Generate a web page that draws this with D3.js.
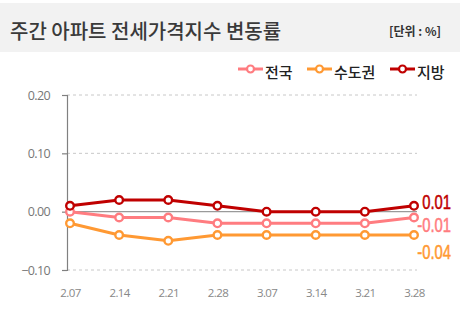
<!DOCTYPE html>
<html>
<head>
<meta charset="utf-8">
<script src="https://cdn.jsdelivr.net/npm/d3@7"></script>
<style>
  html, body { margin: 0; padding: 0; background: #fff; }
  svg { display: block; }
</style>
</head>
<body>
<svg id="chart" width="460" height="325"></svg>
<script>
// Weekly apartment jeonse price index change (%)
const weeks = ["2.07", "2.14", "2.21", "2.28", "3.07", "3.14", "3.21", "3.28"];
const nationwide = [0.00, -0.01, -0.01, -0.02, -0.02, -0.02, -0.02, -0.01];
const capitalArea = [-0.02, -0.04, -0.05, -0.04, -0.04, -0.04, -0.04, -0.04];
const provinces = [0.01, 0.02, 0.02, 0.01, 0.00, 0.00, 0.00, 0.01];
const yTicks = [0.20, 0.10, 0.00, -0.10];
const seriesNames = ["전국", "수도권", "지방"];
const seriesColors = ["#ff7c80", "#ff9933", "#c00000"];

const series = [
  { name: seriesNames[0], values: nationwide, color: seriesColors[0] },
  { name: seriesNames[1], values: capitalArea, color: seriesColors[1] },
  { name: seriesNames[2], values: provinces, color: seriesColors[2] }
];

const svg = d3.select("#chart");
const font = "'Noto Sans CJK KR', 'Noto Sans', sans-serif";

// Title band
svg.append("rect").attr("x", 0).attr("y", 3).attr("width", 460).attr("height", 49).attr("fill", "#f2f2f2");
svg.append("text").attr("x", 10).attr("y", 30).attr("dominant-baseline", "central")
  .attr("font-family", font).attr("font-size", 20).attr("font-weight", 500).attr("fill", "#3a3a3a")
  .text("주간 아파트 전세가격지수 변동률");
svg.append("text").attr("x", 441).attr("y", 30).attr("dominant-baseline", "central").attr("text-anchor", "end")
  .attr("font-family", font).attr("font-size", 12).attr("font-weight", 700).attr("fill", "#333")
  .text("[단위 : %]");

// Scales
const x = d3.scalePoint().domain(weeks).range([70, 414]);
const y = d3.scaleLinear().domain([-0.10, 0.20]).range([270, 95]);

// Grid lines
svg.append("g").selectAll("line").data(yTicks.filter(d => d !== 0)).join("line")
  .attr("x1", 67).attr("x2", 417).attr("y1", d => y(d)).attr("y2", d => y(d))
  .attr("stroke", "#c8c8c8").attr("stroke-width", 1).attr("stroke-dasharray", "3,3");

// Y axis
const yAxis = svg.append("g").attr("transform", "translate(67,0)")
  .call(d3.axisLeft(y).tickValues(yTicks).tickFormat(d3.format(".2f")).tickSize(5).tickPadding(12));
yAxis.select(".domain").attr("stroke", "#808080").attr("stroke-width", 1.2);
yAxis.selectAll(".tick line").attr("stroke", "#808080").attr("stroke-width", 1.2);
yAxis.selectAll(".tick text").attr("font-family", "'Open Sans', sans-serif").attr("font-size", 12.5)
  .attr("fill", "#777").attr("letter-spacing", "-0.6px");

// Zero line
svg.append("line").attr("x1", 67).attr("x2", 417).attr("y1", y(0)).attr("y2", y(0))
  .attr("stroke", "#9a9a9a").attr("stroke-width", 1.2);

// X axis labels
const xAxis = svg.append("g").attr("transform", "translate(0,285)")
  .call(d3.axisBottom(x).tickSize(0).tickPadding(4));
xAxis.select(".domain").remove();
xAxis.selectAll(".tick text").attr("font-family", "'Open Sans', sans-serif").attr("font-size", 11.5)
  .attr("fill", "#888").attr("letter-spacing", "-0.6px");

// Lines with markers
const line = d3.line().x((d, i) => x(weeks[i])).y(d => y(d));
const draw = [series[1], series[0], series[2]];
draw.forEach(s => {
  const g = svg.append("g");
  g.append("path").attr("d", line(s.values)).attr("fill", "none")
    .attr("stroke", s.color).attr("stroke-width", 3).attr("stroke-linejoin", "round");
  g.selectAll("circle").data(s.values).join("circle")
    .attr("cx", (d, i) => x(weeks[i])).attr("cy", d => y(d)).attr("r", 3.8)
    .attr("fill", "#fff").attr("stroke", s.color).attr("stroke-width", 2.4);
});

// End value labels (condensed, right-aligned)
const labelShift = [7.5, 17, -4];
series.forEach((s, k) => {
  const v = s.values[s.values.length - 1];
  svg.append("g").attr("transform", `translate(451,${y(v) + labelShift[k]}) scale(0.76,1)`)
    .append("text").attr("x", 0).attr("y", 0).attr("dominant-baseline", "central")
    .attr("text-anchor", "end")
    .attr("font-family", "'Liberation Sans', Arial, sans-serif")
    .attr("font-size", 19.5).attr("font-weight", 400).attr("fill", s.color)
    .attr("stroke", s.color).attr("stroke-width", 0.5)
    .text(d3.format(".2f")(v).replace("−", "-"));
});

// Legend
const legendX = [238, 307, 390];
series.forEach((s, k) => {
  const g = svg.append("g").attr("transform", `translate(${legendX[k]},69)`);
  g.append("line").attr("x1", 0).attr("x2", 25).attr("y1", 0).attr("y2", 0)
    .attr("stroke", s.color).attr("stroke-width", 3);
  g.append("circle").attr("cx", 12.5).attr("cy", 0).attr("r", 3.5)
    .attr("fill", "#fff").attr("stroke", s.color).attr("stroke-width", 2.2);
  g.append("text").attr("x", 27).attr("y", 2).attr("dominant-baseline", "central")
    .attr("font-family", font).attr("font-size", 15).attr("font-weight", 500).attr("fill", "#222")
    .text(s.name);
});
</script>
</body>
</html>
